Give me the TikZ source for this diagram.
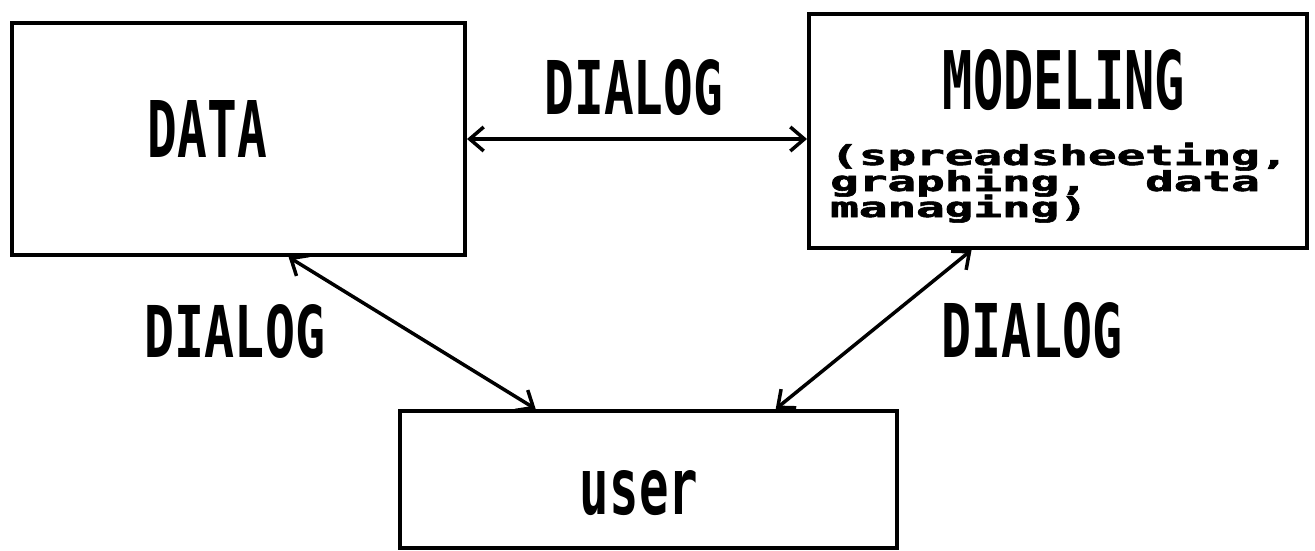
\documentclass[tikz,border=0pt]{standalone}
\usepackage{fontspec}
\usepackage{graphicx}
\usetikzlibrary{arrows.meta}
\newfontfamily\labfont{DejaVu Sans Mono}
\newfontfamily\heavyfont[FakeBold=2]{DejaVu Sans Mono Bold}
\tikzset{
  box/.style={draw, line width=4pt, inner sep=0pt},
  link/.style={line width=3.5pt, {Straight Barb[length=14pt,width=24pt,line width=3.5pt]}-{Straight Barb[length=14pt,width=24pt,line width=3.5pt]}},
  lab/.style={inner sep=0pt, font=\labfont\bfseries},
  sublab/.style={inner sep=0pt, anchor=base west, font=\heavyfont\fontsize{27.5}{27.5}\selectfont}
}
\begin{document}
\begin{tikzpicture}[x=1pt,y=-1pt]
\useasboundingbox (0,0) rectangle (1315,551);
% boxes
\node[box, minimum width=453pt, minimum height=232pt] (data) at (238.5,139) {};
\node[box, minimum width=498pt, minimum height=234pt] (model) at (1058,131) {};
\node[box, minimum width=497pt, minimum height=137pt] (user) at (648.5,479.5) {};
% box labels
\node[lab] (datalab) at (207.5,128.5) {\resizebox{119pt}{57pt}{DATA}};
\node[lab] (modlab) at (1064,80) {\resizebox{242pt}{60pt}{MODELING}};
\node[lab] (userlab) at (639,493) {\resizebox{118pt}{44pt}{user}};
\node[sublab] (sub1) at (830,165) {\scalebox{1.73}[1]{(spreadsheeting,}};
\node[sublab] (sub2) at (830,191) {\scalebox{1.73}[1]{graphing,\ \ data}};
\node[sublab] (sub3) at (830,217) {\scalebox{1.73}[1]{managing)}};
% connectors
\draw[link] (data.east) -- (data.east -| model.west);
\draw[link] (data.-67) -- (user.148);
\draw[link] (model.-126) -- (user.29);
% connector labels
\node[lab] (dtop) at (634,87.5) {\resizebox{178pt}{55pt}{DIALOG}};
\node[lab] (dleft) at (235,331.5) {\resizebox{180pt}{53pt}{DIALOG}};
\node[lab] (dright) at (1032,330.5) {\resizebox{180pt}{55pt}{DIALOG}};
\end{tikzpicture}
\end{document}
